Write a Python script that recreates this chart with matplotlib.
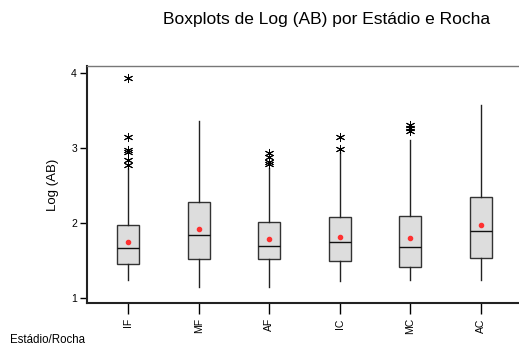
import matplotlib.pyplot as plt

plt.rcParams['font.family'] = ['Liberation Sans', 'DejaVu Sans']

# Grupos Estádio/Rocha e estatísticas de Log (AB)
grupos = ["IF", "MF", "AF", "IC", "MC", "AC"]
whisker_low = [1.24, 1.155, 1.155, 1.235, 1.24, 1.24]
q1 = [1.456, 1.53, 1.52, 1.50, 1.42, 1.54]
mediana = [1.665, 1.84, 1.70, 1.75, 1.68, 1.90]
q3 = [1.98, 2.28, 2.02, 2.085, 2.10, 2.35]
whisker_high = [2.74, 3.36, 2.73, 2.95, 3.10, 3.57]
media = [1.75, 1.92, 1.785, 1.815, 1.80, 1.98]
outliers = [
    [2.78, 2.84, 2.94, 2.97, 3.14, 3.93],
    [],
    [2.79, 2.82, 2.88, 2.93],
    [2.99, 3.14],
    [3.22, 3.27, 3.30],
    [],
]

stats = []
for i, g in enumerate(grupos):
    stats.append({
        'label': g,
        'whislo': whisker_low[i],
        'q1': q1[i],
        'med': mediana[i],
        'q3': q3[i],
        'whishi': whisker_high[i],
        'mean': media[i],
        'fliers': outliers[i],
    })

fig = plt.figure(figsize=(5.19, 3.49), dpi=100)
ax = fig.add_axes([0.167, 0.132, 0.833, 0.679])

ax.bxp(stats, widths=0.31, patch_artist=True, showmeans=True,
       boxprops=dict(facecolor='#dddddd', edgecolor='#333333', linewidth=1.0),
       medianprops=dict(color='#111111', linewidth=1.0),
       whiskerprops=dict(color='#222222', linewidth=1.0),
       capprops=dict(linewidth=0),
       flierprops=dict(marker=(6, 2, 0), markersize=6.5, markeredgecolor='black',
                       markeredgewidth=0.7, linestyle='none'),
       meanprops=dict(marker='o', markersize=3, markerfacecolor='#ff3030',
                      markeredgecolor='#ff3030'))

ax.set_xlim(0.413, 6.54)
ax.set_ylim(0.94, 4.09)
ax.set_yticks([1, 2, 3, 4])
ax.set_xticks(range(1, 7))
ax.set_xticklabels(grupos, rotation=90, fontsize=7.5)
ax.tick_params(axis='y', labelsize=7.5, length=5, width=1.0, pad=2)
ax.tick_params(axis='x', length=8, width=1.0, pad=3)

ax.spines['right'].set_visible(False)
ax.spines['top'].set_color('#777777')
ax.spines['top'].set_linewidth(1.0)
ax.spines['left'].set_linewidth(1.5)
ax.spines['bottom'].set_linewidth(1.5)
ax.spines['left'].set_color('#222222')
ax.spines['bottom'].set_color('#222222')

ax.set_ylabel("Log (AB)", fontsize=9.5, labelpad=9)
fig.text(0.63, 0.943, "Boxplots de Log (AB) por Estádio e Rocha",
         ha='center', va='center', fontsize=12.5)
fig.text(0.019, 0.026, "Estádio/Rocha", ha='left', va='center', fontsize=8.3)

fig.savefig("out.png", dpi=100)
